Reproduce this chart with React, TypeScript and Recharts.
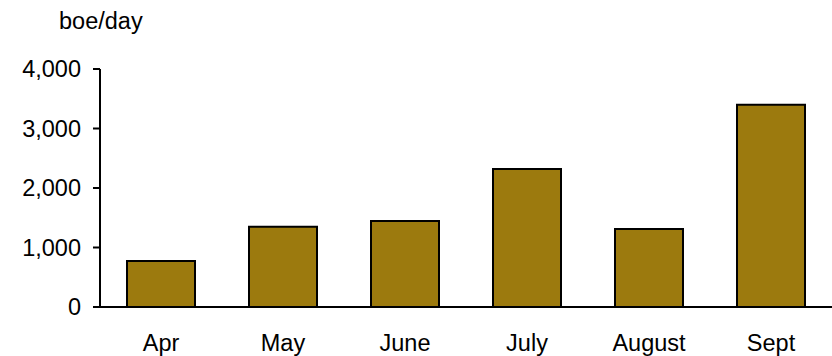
import { Bar, BarChart, XAxis, YAxis } from 'recharts'

const months = ['Apr', 'May', 'June', 'July', 'August', 'Sept']
const boePerDay = [775, 1350, 1445, 2320, 1310, 3400]
const yTicks = [0, 1000, 2000, 3000, 4000]

const data = months.map((month, i) => ({ month, value: boePerDay[i] }))

const font = '"Liberation Sans", Arial, sans-serif'

function fmt(n: number) {
  return n.toLocaleString('en-US')
}

export default function App() {
  return (
    <div style={{ position: 'absolute', left: 0, top: 0, width: 832, height: 356, background: '#fff' }}>
      <div
        style={{
          position: 'absolute',
          left: 59,
          top: 8,
          fontFamily: font,
          fontSize: 23.5,
          lineHeight: '26px',
          color: '#000',
        }}
      >
        boe/day
      </div>
      <BarChart
        width={832}
        height={356}
        data={data}
        margin={{ top: 69, right: 0, left: 0, bottom: 0 }}
        barSize={68}
      >
        <XAxis
          dataKey="month"
          height={49}
          axisLine={{ stroke: '#000', strokeWidth: 2 }}
          tickLine={false}
          tickSize={0}
          tickMargin={27}
          tick={{ fontSize: 23.5, fill: '#000', fontFamily: font }}
          interval={0}
        />
        <YAxis
          width={100}
          domain={[0, 4000]}
          ticks={yTicks}
          interval={0}
          tickFormatter={fmt}
          axisLine={{ stroke: '#000', strokeWidth: 2 }}
          tickLine={{ stroke: '#000', strokeWidth: 2 }}
          tickSize={7}
          tickMargin={12}
          tick={{ fontSize: 23.5, fill: '#000', fontFamily: font }}
        />
        <Bar dataKey="value" fill="#9C7A0E" stroke="#000" strokeWidth={2} isAnimationActive={false} />
      </BarChart>
    </div>
  )
}
